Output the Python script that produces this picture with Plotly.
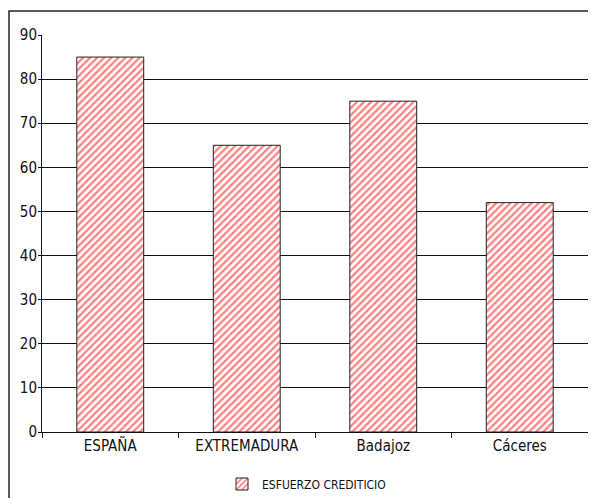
import plotly.graph_objects as go

categories = ["ESPAÑA", "EXTREMADURA", "Badajoz", "Cáceres"]
values = [85, 65, 75, 52]
series_name = "ESFUERZO CREDITICIO"
y_ticks = [0, 10, 20, 30, 40, 50, 60, 70, 80, 90]

# page body has an 8px margin, so the figure is sized/offset accordingly
OFF = 8
W, H = 596 - OFF, 498 - OFF
L, R, T, B = 42 - OFF, 8, 35 - OFF, 66
pw = W - L - R
ph = H - T - B

FONT = "DejaVu Sans Condensed, Liberation Sans Narrow, Liberation Sans, Arial, sans-serif"

fig = go.Figure()
fig.add_trace(go.Bar(
    x=categories,
    y=values,
    name=series_name,
    marker=dict(
        color="white",
        line=dict(color="#222222", width=1),
        pattern=dict(shape="/", fgcolor="#ff0000", bgcolor="white", size=5, solidity=0.45),
    ),
    showlegend=True,
))

fig.update_layout(
    width=W, height=H,
    margin=dict(l=L, r=R, t=T, b=B, autoexpand=False),
    paper_bgcolor="white",
    plot_bgcolor="white",
    bargap=0.51,
    font=dict(family=FONT, size=15, color="#111111"),
    showlegend=True,
    legend=dict(
        orientation="h",
        xref="container", yref="container",
        x=(222 - OFF) / W, xanchor="left",
        y=(H - (484 - OFF)) / H, yanchor="middle",
        font=dict(family=FONT, size=12, color="#111111"),
        bgcolor="rgba(0,0,0,0)",
    ),
    xaxis=dict(
        type="category",
        showgrid=False,
        showline=True, linecolor="#111111", linewidth=1,
        ticks="outside", tickson="boundaries", ticklen=5, tickcolor="#111111",
        tickfont=dict(family=FONT, size=15, color="#111111"),
        zeroline=False,
    ),
    yaxis=dict(
        range=[0, 90],
        tickvals=y_ticks,
        showgrid=True, gridcolor="#111111", gridwidth=1,
        showline=True, linecolor="#111111", linewidth=1,
        ticks="outside", ticklen=3, tickcolor="#111111",
        tickfont=dict(family=FONT, size=15, color="#111111"),
        zeroline=False,
        ticklabelstandoff=-2,
    ),
    shapes=[
        dict(type="rect", xref="paper", yref="paper",
             x0=(9 - 42) / pw, x1=1.2, y0=-0.3, y1=(ph + 35 - 11) / ph,
             line=dict(color="#222222", width=1.5), fillcolor="rgba(0,0,0,0)", layer="below"),
    ],
)

fig.write_html("out.html")
